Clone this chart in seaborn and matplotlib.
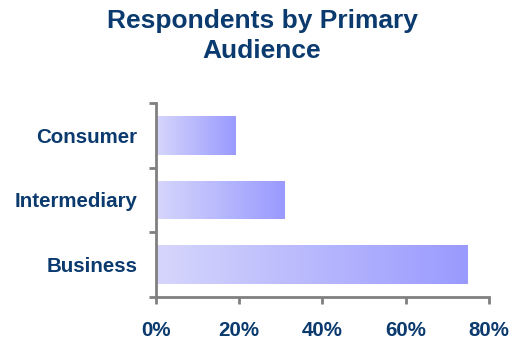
import numpy as np
import pandas as pd
import matplotlib
matplotlib.use("Agg")
import matplotlib.pyplot as plt
from matplotlib.colors import LinearSegmentedColormap
from matplotlib.ticker import FixedLocator, PercentFormatter
import seaborn as sns

categories = ["Consumer", "Intermediary", "Business"]
shares = [19, 31, 75]
x_ticks = [0, 20, 40, 60, 80]

sns.set_style("white")
plt.rcParams["font.family"] = ["Liberation Sans", "DejaVu Sans"]

navy = "#0b3a6e"
axis_grey = "#808080"

df = pd.DataFrame({"audience": categories, "share": shares})

fig = plt.figure(figsize=(5.13, 3.41), dpi=100)
ax = fig.add_axes([0.304, 0.129, 0.6486, 0.569])

sns.barplot(data=df, x="share", y="audience", orient="h", width=0.6,
            color="#9999ff", ax=ax)

# Light-to-dark horizontal gradient inside each bar
cmap = LinearSegmentedColormap.from_list("bar_grad", ["#d6d6fc", "#9a9aff"])
grad = np.linspace(0, 1, 256).reshape(1, -1)
for patch in list(ax.patches):
    x0, y0 = patch.get_x(), patch.get_y()
    w, h = patch.get_width(), patch.get_height()
    patch.set_facecolor("none")
    patch.set_edgecolor("none")
    im = ax.imshow(grad, cmap=cmap, aspect="auto", interpolation="bilinear",
                   extent=[x0, x0 + w, y0 + h, y0], zorder=2)
    im.set_clip_path(patch)

ax.set_xlim(0, 80)
ax.set_ylim(2.5, -0.5)
ax.set_xlabel("")
ax.set_ylabel("")

ax.xaxis.set_major_locator(FixedLocator(x_ticks))
ax.xaxis.set_major_formatter(PercentFormatter(decimals=0))

# Category labels at the centres, tick marks on the band boundaries
ax.set_yticks(range(len(categories)))
ax.set_yticklabels(categories)
ax.set_yticks(np.arange(-0.5, len(categories), 1.0), minor=True)
ax.tick_params(axis="y", which="major", length=0, pad=13.5)
ax.tick_params(axis="y", which="minor", length=5, width=2, color=axis_grey,
               direction="out", left=True)
ax.tick_params(axis="x", which="major", length=5, width=2, color=axis_grey,
               direction="out", bottom=True, pad=12)

for lbl in ax.get_xticklabels() + ax.get_yticklabels():
    lbl.set_fontweight("bold")
    lbl.set_color(navy)
    lbl.set_fontsize(14.8)

for side in ["top", "right"]:
    ax.spines[side].set_visible(False)
for side in ["left", "bottom"]:
    ax.spines[side].set_color(axis_grey)
    ax.spines[side].set_linewidth(2)

fig.text(0.511, 0.975, "Respondents by Primary\nAudience", ha="center",
         va="top", fontsize=19, fontweight="bold", color=navy,
         linespacing=1.32)

fig.savefig("out.png", dpi=100, facecolor="white")
